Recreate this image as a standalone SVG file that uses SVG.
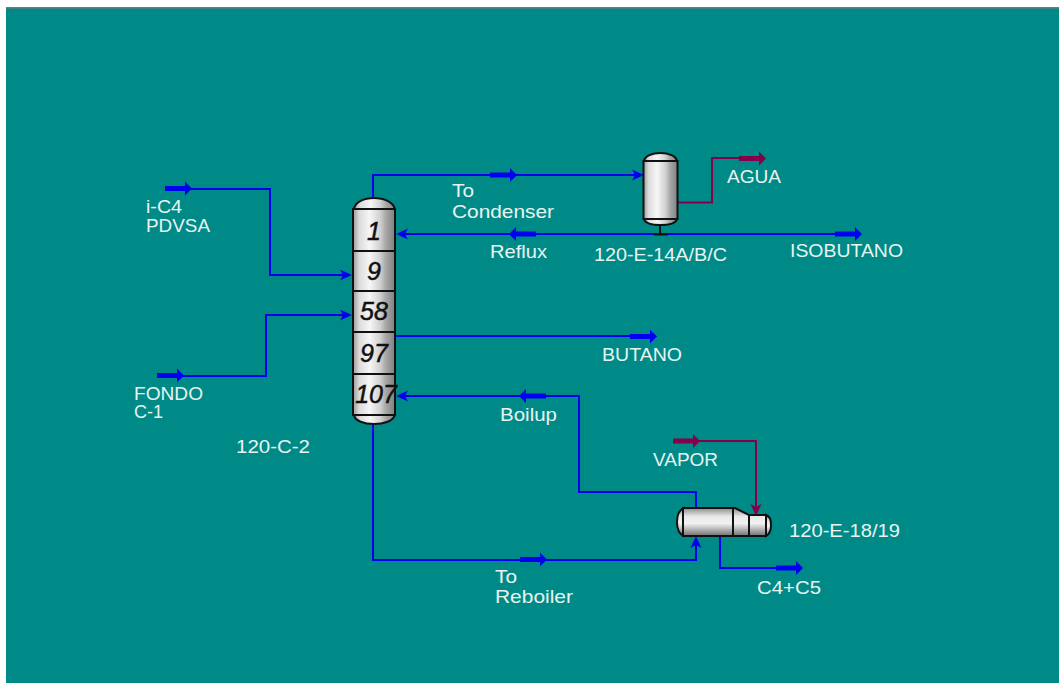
<svg xmlns="http://www.w3.org/2000/svg" width="1059" height="683" viewBox="0 0 1059 683">
<style>
.c{fill:none;stroke:#0000f0;stroke-width:2}
.m{fill:none;stroke:#85004b;stroke-width:2}
.ab{fill:#0000f0}
.am{fill:#85004b}
.l{font-family:"Liberation Sans",Arial,sans-serif;font-size:19px;fill:#e8f4f0}
.n{font-family:"Liberation Sans",Arial,sans-serif;font-size:25px;font-style:italic;fill:#111;stroke:#111;stroke-width:.5;text-anchor:middle}
.e{stroke:#111;stroke-width:2}
.s{fill:none;stroke:#111;stroke-width:2}
</style>
<defs>
<linearGradient id="h"><stop offset="0" stop-color="#9a9a9a"/><stop offset=".15" stop-color="#dcdcdc"/><stop offset=".4" stop-color="#f6f6f6"/><stop offset=".65" stop-color="#d0d0d0"/><stop offset=".78" stop-color="#a8a8a8"/><stop offset="1" stop-color="#808080"/></linearGradient>
<linearGradient id="v" x2="0" y2="1"><stop offset="0" stop-color="#8c8c8c"/><stop offset=".3" stop-color="#e8e8e8"/><stop offset=".55" stop-color="#f2f2f2"/><stop offset="1" stop-color="#707070"/></linearGradient>
<path id="rt" d="M0 -2.500H20V-7L27 0L20 7V2.500H0Z"/>
<path id="in" d="M0 0L-12 -5.500L-9 0L-12 5.500Z"/>
</defs>
<rect width="1059" height="683" fill="#fff"/>
<rect x="6" y="7" width="1053" height="676" fill="#008a87"/>
<rect x="6" y="7" width="1053" height="1.500" fill="#777"/>
<g id="connectors">
<path class="c" d="M180 189H270V275H345"/>
<path class="c" d="M175 376H266V315H345"/>
<path class="c" d="M373 199V175H638"/>
<path class="c" d="M402 234H838"/>
<path class="c" d="M395 336H632"/>
<path class="c" d="M696 508V492H579V396H402"/>
<path class="c" d="M373 424V560H696V543"/>
<path class="c" d="M720 536V568H778"/>
<path class="m" d="M678 202.500H712V158H740"/>
<path class="m" d="M690 441H756V510"/>
<use href="#rt" class="ab" x="165" y="188.500"/>
<use href="#rt" class="ab" x="157" y="375.500"/>
<use href="#rt" class="ab" x="490" y="175"/>
<use href="#rt" class="ab" x="630" y="336.500"/>
<use href="#rt" class="ab" x="835" y="234"/>
<use href="#rt" class="ab" x="520" y="559.500"/>
<use href="#rt" class="ab" x="776" y="568"/>
<use href="#rt" class="am" x="739" y="158.500"/>
<use href="#rt" class="am" x="673" y="441"/>
<use href="#rt" class="ab" transform="translate(536 234)scale(-1 1)"/>
<use href="#rt" class="ab" transform="translate(546 396)scale(-1 1)"/>
<use href="#in" class="ab" transform="translate(352 275)"/>
<use href="#in" class="ab" transform="translate(352 315)"/>
<use href="#in" class="ab" transform="translate(396 234)rotate(180)"/>
<use href="#in" class="ab" transform="translate(396 396)rotate(180)"/>
<use href="#in" class="ab" transform="translate(644 175)"/>
<use href="#in" class="ab" transform="translate(696 536)rotate(-90)"/>
<use href="#in" class="am" transform="translate(756 516)rotate(90)"/>
</g>
<g id="col-120-C-2">
<path class="e" fill="url(#h)" d="M354 209C355 202 364 198 374 198C384 198 393 202 395 209Z"/>
<path class="e" fill="url(#h)" d="M354 415C355 421 364 424 374 424C384 424 393 421 395 415Z"/>
<rect class="e" fill="url(#h)" x="353" y="209" width="42" height="206"/>
<path class="s" d="M353 251H395M353 291H395M353 332H395M353 374H395"/>
<text class="n" x="374" y="240">1</text>
<text class="n" x="374" y="280">9</text>
<text class="n" x="374" y="320">58</text>
<text class="n" x="374" y="362">97</text>
<text class="n" x="376" y="403">107</text>
</g>
<g id="cond-120-E-14">
<path class="s" d="M660 225V234M654 234.500H668"/>
<path class="e" fill="url(#h)" d="M644 161C645 156 652 153 660.500 153C669 153 676 156 677 161Z"/>
<path class="e" fill="url(#h)" d="M644 219C645 223 652 225 660.500 225C669 225 676 223 677 219Z"/>
<rect class="e" fill="url(#h)" x="643.500" y="161" width="34" height="58"/>
</g>
<g id="reb-120-E-18">
<path class="e" fill="url(#v)" d="M684 508C679 510 677 515 677 522C677 529 679 534 684 536Z"/>
<path class="e" fill="url(#v)" d="M766 515C770 517 771 519 771 525C771 531 770 534 766 536Z"/>
<path class="e" fill="url(#v)" d="M683 508H735L749 515H766V536H683Z"/>
<path class="s" d="M733 508V536M749 515V536"/>
</g>
<g id="labels">
<text class="l" lengthAdjust="spacingAndGlyphs" textLength="36" x="146" y="213">i-C4</text>
<text class="l" lengthAdjust="spacingAndGlyphs" textLength="64" x="146" y="232">PDVSA</text>
<text class="l" lengthAdjust="spacingAndGlyphs" textLength="69" x="134" y="400">FONDO</text>
<text class="l" lengthAdjust="spacingAndGlyphs" textLength="29" x="134" y="418">C-1</text>
<text class="l" lengthAdjust="spacingAndGlyphs" textLength="74" x="236" y="453">120-C-2</text>
<text class="l" lengthAdjust="spacingAndGlyphs" textLength="22" x="452" y="197">To</text>
<text class="l" lengthAdjust="spacingAndGlyphs" textLength="102" x="452" y="218">Condenser</text>
<text class="l" lengthAdjust="spacingAndGlyphs" textLength="57" x="490" y="258">Reflux</text>
<text class="l" lengthAdjust="spacingAndGlyphs" textLength="133" x="594" y="261">120-E-14A/B/C</text>
<text class="l" lengthAdjust="spacingAndGlyphs" textLength="54" x="727" y="183">AGUA</text>
<text class="l" lengthAdjust="spacingAndGlyphs" textLength="113" x="790" y="257">ISOBUTANO</text>
<text class="l" lengthAdjust="spacingAndGlyphs" textLength="80" x="602" y="361">BUTANO</text>
<text class="l" lengthAdjust="spacingAndGlyphs" textLength="57" x="500" y="421">Boilup</text>
<text class="l" lengthAdjust="spacingAndGlyphs" textLength="65" x="653" y="466">VAPOR</text>
<text class="l" lengthAdjust="spacingAndGlyphs" textLength="111" x="789" y="537">120-E-18/19</text>
<text class="l" lengthAdjust="spacingAndGlyphs" textLength="22" x="495" y="583">To</text>
<text class="l" lengthAdjust="spacingAndGlyphs" textLength="78" x="495" y="603">Reboiler</text>
<text class="l" lengthAdjust="spacingAndGlyphs" textLength="64" x="757" y="594">C4+C5</text>
</g>
</svg>
